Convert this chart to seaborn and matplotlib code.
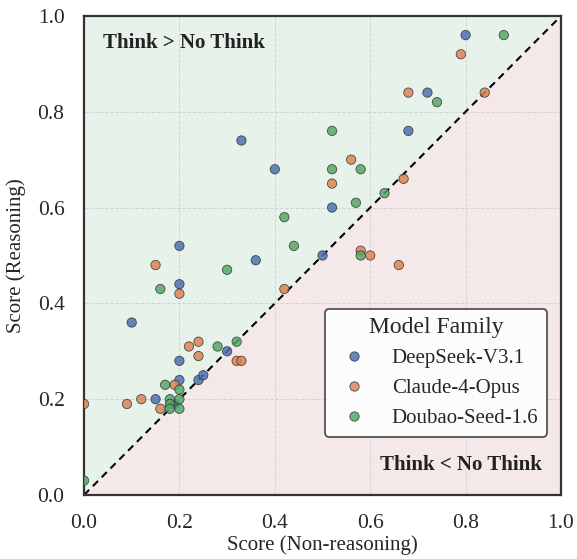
import numpy as np
import pandas as pd
import matplotlib
matplotlib.use("Agg")
import matplotlib.pyplot as plt
import seaborn as sns

# ---- data ----
families = ["DeepSeek-V3.1", "Claude-4-Opus", "Doubao-Seed-1.6"]

deepseek_x = [0.33, 0.40, 0.20, 0.80, 0.72, 0.68, 0.52, 0.50, 0.36, 0.20, 0.10, 0.30, 0.20, 0.20, 0.24, 0.25, 0.15, 0.19]
deepseek_y = [0.74, 0.68, 0.52, 0.96, 0.84, 0.76, 0.60, 0.50, 0.49, 0.44, 0.36, 0.30, 0.28, 0.24, 0.24, 0.25, 0.20, 0.19]

claude_x = [0.79, 0.68, 0.84, 0.56, 0.52, 0.67, 0.58, 0.60, 0.66, 0.15, 0.20, 0.42, 0.22, 0.24, 0.24, 0.32, 0.33, 0.19, 0.00, 0.09, 0.12, 0.16]
claude_y = [0.92, 0.84, 0.84, 0.70, 0.65, 0.66, 0.51, 0.50, 0.48, 0.48, 0.42, 0.43, 0.31, 0.32, 0.29, 0.28, 0.28, 0.23, 0.19, 0.19, 0.20, 0.18]

doubao_x = [0.88, 0.74, 0.52, 0.52, 0.58, 0.63, 0.57, 0.42, 0.44, 0.58, 0.30, 0.16, 0.28, 0.32, 0.17, 0.20, 0.18, 0.20, 0.18, 0.18, 0.20, 0.00]
doubao_y = [0.96, 0.82, 0.76, 0.68, 0.68, 0.63, 0.61, 0.58, 0.52, 0.50, 0.47, 0.43, 0.31, 0.32, 0.23, 0.22, 0.20, 0.20, 0.19, 0.18, 0.18, 0.03]

ticks = [0.0, 0.2, 0.4, 0.6, 0.8, 1.0]

df = pd.DataFrame({
    "Score (Non-reasoning)": deepseek_x + claude_x + doubao_x,
    "Score (Reasoning)": deepseek_y + claude_y + doubao_y,
    "Model Family": [families[0]] * len(deepseek_x) + [families[1]] * len(claude_x) + [families[2]] * len(doubao_x),
})

sns.set_theme(style="white")
plt.rcParams["font.family"] = ["Liberation Serif", "DejaVu Serif"]

fig = plt.figure(figsize=(5.77, 5.59), dpi=100)
ax = fig.add_axes([0.1456, 0.1145, 0.8267, 0.857])

# background regions
ax.fill_between([0, 1], [0, 1], [1, 1], color="#e7f2ea", zorder=0, linewidth=0)
ax.fill_between([0, 1], [0, 0], [0, 1], color="#f5e8e9", zorder=0, linewidth=0)

ax.grid(True, linestyle="--", color="#cccccc", linewidth=0.7, alpha=0.8, zorder=1)
ax.set_axisbelow(True)

palette = sns.color_palette("deep", 3)
sns.scatterplot(data=df, x="Score (Non-reasoning)", y="Score (Reasoning)", hue="Model Family",
                hue_order=families, palette=palette, s=45, edgecolor="#333333",
                linewidth=0.6, alpha=0.85, ax=ax, zorder=3)

ax.plot([0, 1], [0, 1], linestyle=(0, (3.5, 2.5)), color="black", linewidth=1.5, zorder=2)

ax.set_xlim(0, 1)
ax.set_ylim(0, 1)
ax.set_xticks(ticks)
ax.set_yticks(ticks)
ax.set_xticklabels([f"{t:.1f}" for t in ticks])
ax.set_yticklabels([f"{t:.1f}" for t in ticks])
ax.tick_params(labelsize=15.5, length=0, pad=14)
ax.set_xlabel("Score (Non-reasoning)", fontsize=15, labelpad=1)
ax.set_ylabel("Score (Reasoning)", fontsize=15, labelpad=8)

for sp in ax.spines.values():
    sp.set_color("#333333")
    sp.set_linewidth(1.6)

ax.text(0.04, 0.944, "Think > No Think", transform=ax.transAxes, fontsize=15,
        fontweight="bold", color="#222222", ha="left", va="center")
ax.text(0.96, 0.063, "Think < No Think", transform=ax.transAxes, fontsize=15,
        fontweight="bold", color="#222222", ha="right", va="center")

leg = ax.legend(title="Model Family", loc="lower right", bbox_to_anchor=(0.97, 0.122),
                borderaxespad=0, fontsize=15, title_fontsize=17, frameon=True,
                fancybox=True, markerscale=1.0)
leg.get_frame().set_edgecolor("#333333")
leg.get_frame().set_linewidth(1.2)
leg.get_frame().set_facecolor("white")
leg.get_frame().set_alpha(0.9)
leg.set_zorder(5)

fig.savefig("out.png", dpi=100)
